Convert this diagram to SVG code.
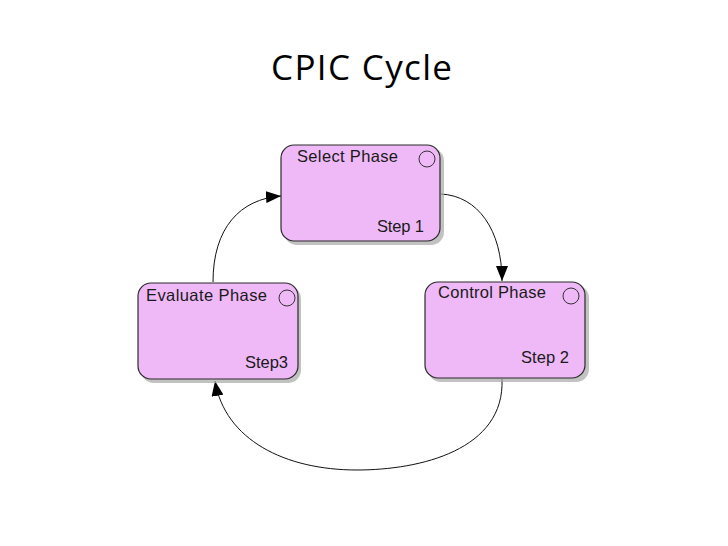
<svg xmlns="http://www.w3.org/2000/svg" width="728" height="546" viewBox="0 0 728 546">
<style>
.shadow{fill:#a8a8a8;opacity:0.7}
.box{fill:#efb9f7;stroke:#2a2a2a;stroke-width:1.2}
.dot{fill:none;stroke:#333;stroke-width:1}
.lbl{font-family:"Liberation Sans",Arial,sans-serif;font-size:16.5px;fill:#1a1a1a}
.conn{fill:none;stroke:#111;stroke-width:1}
.title{font-family:"Open Sans","Noto Sans",sans-serif;font-size:35px;fill:#000}
</style>
<defs>
<marker id="ah" viewBox="0 0 15 12" refX="15" refY="6" markerWidth="15" markerHeight="12" markerUnits="userSpaceOnUse" orient="auto">
<path d="M0,0 L15,6 L0,12 Z" fill="#000"/>
</marker>
</defs>
<rect width="728" height="546" fill="#fff"/>
<text class="title" x="271" y="80" textLength="181" lengthAdjust="spacing">CPIC Cycle</text>
<g id="connectors">
<path class="conn" d="M213,282 C213,228 240,199 281,196" marker-end="url(#ah)"/>
<path class="conn" d="M441,194 C478,196 502,230 502,281" marker-end="url(#ah)"/>
<path class="conn" d="M502,379 C505,450 420,470 357,470 C285,470 225,440 215,381" marker-end="url(#ah)"/>
</g>
<g id="select">
<rect class="shadow" x="284" y="148" width="160" height="97" rx="13"/>
<rect class="box" x="281" y="145" width="159" height="96" rx="13"/>
<circle class="dot" cx="427" cy="159" r="8"/>
<text class="lbl" x="297" y="162" textLength="101" lengthAdjust="spacing">Select Phase</text>
<text class="lbl" x="377" y="232" textLength="47" lengthAdjust="spacing">Step 1</text>
</g>
<g id="control">
<rect class="shadow" x="428" y="285" width="161" height="97" rx="13"/>
<rect class="box" x="425" y="282" width="160" height="96" rx="13"/>
<circle class="dot" cx="571" cy="296" r="8"/>
<text class="lbl" x="438" y="298" textLength="108" lengthAdjust="spacing">Control Phase</text>
<text class="lbl" x="521" y="363" textLength="48" lengthAdjust="spacing">Step 2</text>
</g>
<g id="evaluate">
<rect class="shadow" x="141" y="286" width="160" height="97" rx="13"/>
<rect class="box" x="138" y="283" width="160" height="96" rx="13"/>
<circle class="dot" cx="287" cy="298" r="8"/>
<text class="lbl" x="146" y="301" textLength="121" lengthAdjust="spacing">Evaluate Phase</text>
<text class="lbl" x="245" y="368" textLength="43" lengthAdjust="spacing">Step3</text>
</g>
</svg>
